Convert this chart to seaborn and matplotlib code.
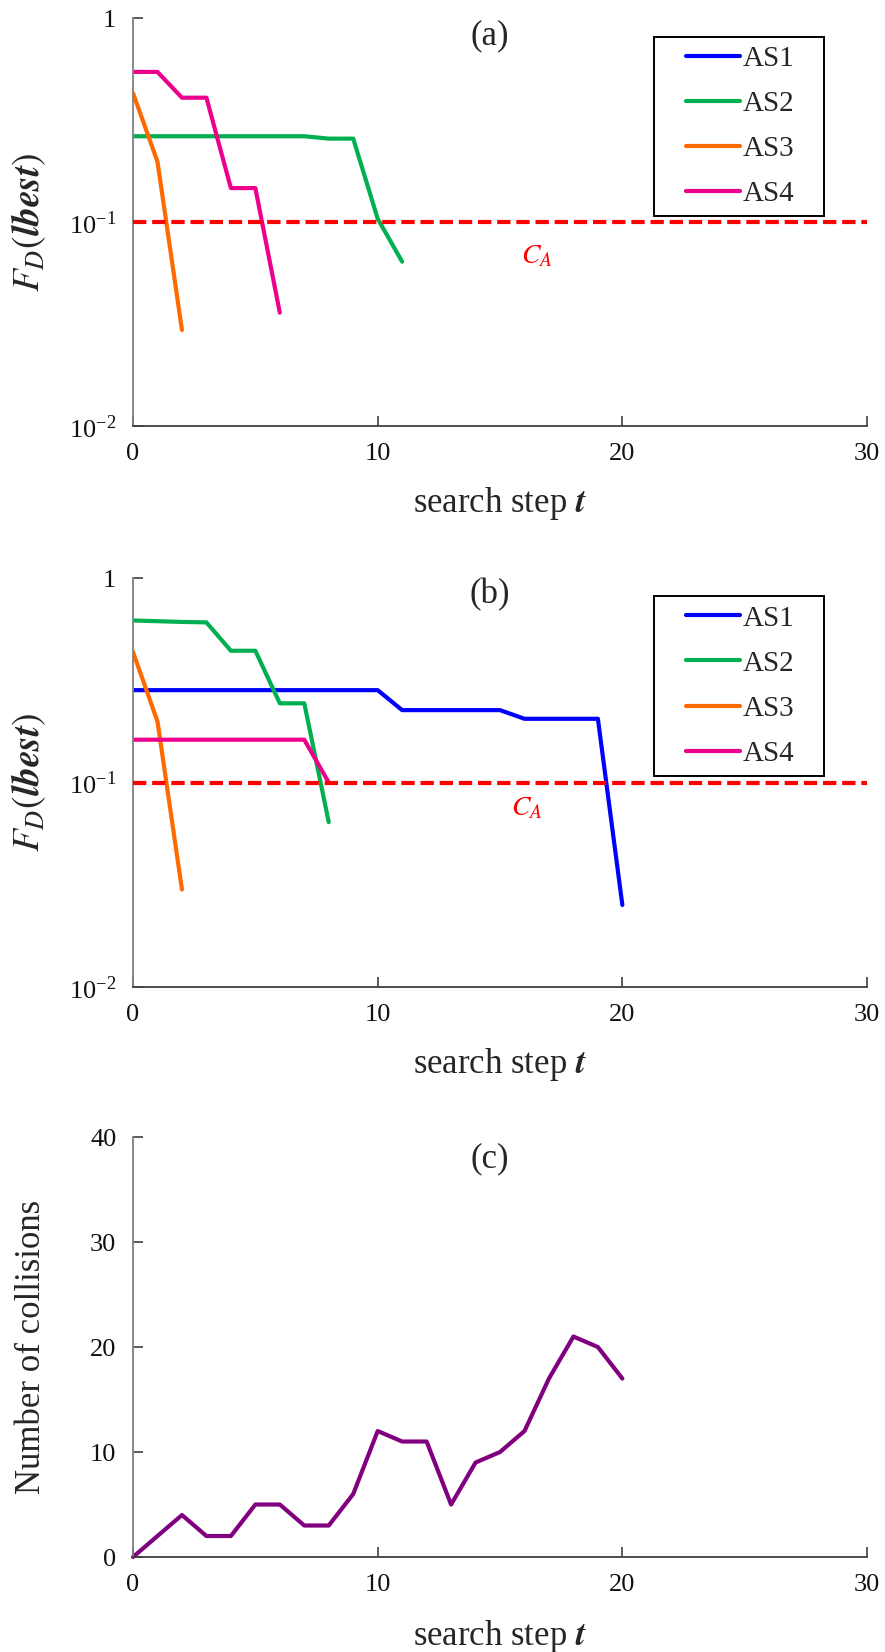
import matplotlib
matplotlib.use("Agg")
import matplotlib.pyplot as plt
import numpy as np
import pandas as pd
import seaborn as sns
from matplotlib.lines import Line2D
from matplotlib.legend_handler import HandlerLine2D
from matplotlib.ticker import FixedLocator, FixedFormatter, NullLocator

# ---- data -------------------------------------------------------------
agents = ["AS1", "AS2", "AS3", "AS4"]
agent_colors = ["#0000FF", "#00B050", "#FF6A00", "#EC008C"]

# (a) best fitness per search step
a_AS1 = []
a_AS2 = [0.264, 0.264, 0.264, 0.264, 0.264, 0.264, 0.264, 0.264, 0.257, 0.257, 0.104, 0.064]
a_AS3 = [0.43, 0.198, 0.0296]
a_AS4 = [0.546, 0.546, 0.408, 0.408, 0.147, 0.147, 0.036]

# (b) best fitness per search step
b_AS1 = [0.283, 0.283, 0.283, 0.283, 0.283, 0.283, 0.283, 0.283, 0.283, 0.283, 0.283,
         0.226, 0.226, 0.226, 0.226, 0.226, 0.205, 0.205, 0.205, 0.205, 0.0252]
b_AS2 = [0.62, 0.615, 0.61, 0.607, 0.441, 0.441, 0.244, 0.244, 0.064]
b_AS3 = [0.435, 0.199, 0.030]
b_AS4 = [0.162, 0.162, 0.162, 0.162, 0.162, 0.162, 0.162, 0.162, 0.1]

# (c) number of collisions per search step
collisions = [0, 2, 4, 2, 2, 5, 5, 3, 3, 6, 12, 11, 11, 5, 9, 10, 12, 17, 21, 20, 17]

C_A = 0.1
x_ticks = [0, 10, 20, 30]
x_tick_labels = ["0", "10", "20", "30"]
log_ticks = [0.01, 0.1, 1]
log_tick_labels = [r"10$^{\mathregular{-2}}$", r"10$^{\mathregular{-1}}$", "1"]
c_ticks = [0, 10, 20, 30, 40]
c_tick_labels = ["0", "10", "20", "30", "40"]

# ---- style ------------------------------------------------------------
sns.set_style("white")
plt.rcParams["font.family"] = ["Liberation Serif", "DejaVu Serif"]
plt.rcParams["mathtext.fontset"] = "stix"

TICK_FS = 19
LABEL_FS = 25
LEG_FS = 21
LW = 3.0


def long_form(series):
    rows = []
    for name, vals in zip(agents, series):
        for t, v in enumerate(vals):
            rows.append((t, v, name))
    return pd.DataFrame(rows, columns=["step", "value", "agent"])


def style_axis(ax, yticks, ylabels):
    for s in ["top", "right"]:
        ax.spines[s].set_visible(False)
    ax.spines["left"].set_color("#808080")
    ax.spines["bottom"].set_color("#404040")
    ax.spines["left"].set_linewidth(1.3)
    ax.spines["bottom"].set_linewidth(1.3)
    ax.set_xlim(0, 30)
    ax.xaxis.set_major_locator(FixedLocator(x_ticks))
    ax.xaxis.set_major_formatter(FixedFormatter(x_tick_labels))
    ax.xaxis.set_minor_locator(NullLocator())
    ax.yaxis.set_major_locator(FixedLocator(yticks))
    ax.yaxis.set_major_formatter(FixedFormatter(ylabels))
    ax.yaxis.set_minor_locator(NullLocator())
    ax.tick_params(axis="both", which="major", direction="in", length=7, width=1.2,
                   color="#404040", labelsize=TICK_FS, labelcolor="#111111")
    ax.tick_params(axis="x", pad=12, bottom=True)
    ax.tick_params(axis="y", pad=12, left=True)
    ax.set_xlabel(r"search step $\mathbfit{t}$", fontsize=LABEL_FS, va="center")
    ax.xaxis.set_label_coords(0.5, -0.19)


fig = plt.figure(figsize=(8.85, 16.52), dpi=100)
left, width = 0.1503, 0.8294
ax_a = fig.add_axes([left, 0.7421, width, 0.2468])
ax_b = fig.add_axes([left, 0.4025, width, 0.2476])
ax_c = fig.add_axes([left, 0.0575, width, 0.2542])

palette = dict(zip(agents, agent_colors))

for ax, series, tag, ca_pos, in [
    (ax_a, [a_AS1, a_AS2, a_AS3, a_AS4], "(a)", (16.5, 0.068)),
    (ax_b, [b_AS1, b_AS2, b_AS3, b_AS4], "(b)", (16.1, 0.075)),
]:
    df = long_form(series)
    sns.lineplot(data=df, x="step", y="value", hue="agent", hue_order=agents,
                 palette=palette, estimator=None, sort=False, linewidth=LW,
                 legend=False, ax=ax)
    ax.set_yscale("log")
    ax.set_ylim(0.01, 1)
    style_axis(ax, log_ticks, log_tick_labels)
    ax.set_ylabel(r"$F_D(\mathbfit{lbest})$", fontsize=27, va="center")
    ax.yaxis.set_label_coords(-0.142, 0.5)

    ax.axhline(C_A, color="#FF0000", linewidth=LW, linestyle=(0, (3.2, 1.4)), zorder=6)
    ax.text(ca_pos[0], ca_pos[1], r"$C_A$", color="#FF0000", fontsize=20,
            ha="center", va="center")
    ax.text(0.486, 0.958, tag, transform=ax.transAxes, fontsize=LABEL_FS,
            ha="center", va="center")

    handles = [Line2D([], [], color=c, linewidth=LW, solid_capstyle="round")
               for c in agent_colors]
    leg = ax.legend(handles, agents, loc="upper left",
                    bbox_to_anchor=(0.71, 0.955, 0.2316, 0.0), mode="expand",
                    borderaxespad=0.0, borderpad=0.3, labelspacing=0.64,
                    handlelength=2.65, handletextpad=0.1, fontsize=LEG_FS,
                    frameon=True, fancybox=False, framealpha=1.0,
                    handler_map={Line2D: HandlerLine2D(xpad=0.79)})
    leg.get_frame().set_edgecolor("#000000")
    leg.get_frame().set_linewidth(1.4)
    leg.set_zorder(5)

# (c) collisions
df_c = pd.DataFrame({"step": np.arange(len(collisions)), "collisions": collisions})
sns.lineplot(data=df_c, x="step", y="collisions", color="#800080", linewidth=LW,
             estimator=None, sort=False, ax=ax_c)
ax_c.set_ylim(0, 40)
style_axis(ax_c, c_ticks, c_tick_labels)
ax_c.set_ylabel("Number of collisions", fontsize=LABEL_FS, va="center")
ax_c.yaxis.set_label_coords(-0.138, 0.5)
ax_c.text(0.486, 0.948, "(c)", transform=ax_c.transAxes, fontsize=LABEL_FS,
          ha="center", va="center")
for line in ax_c.lines:
    line.set_clip_on(False)

fig.savefig("out.png", dpi=100, facecolor="white")
